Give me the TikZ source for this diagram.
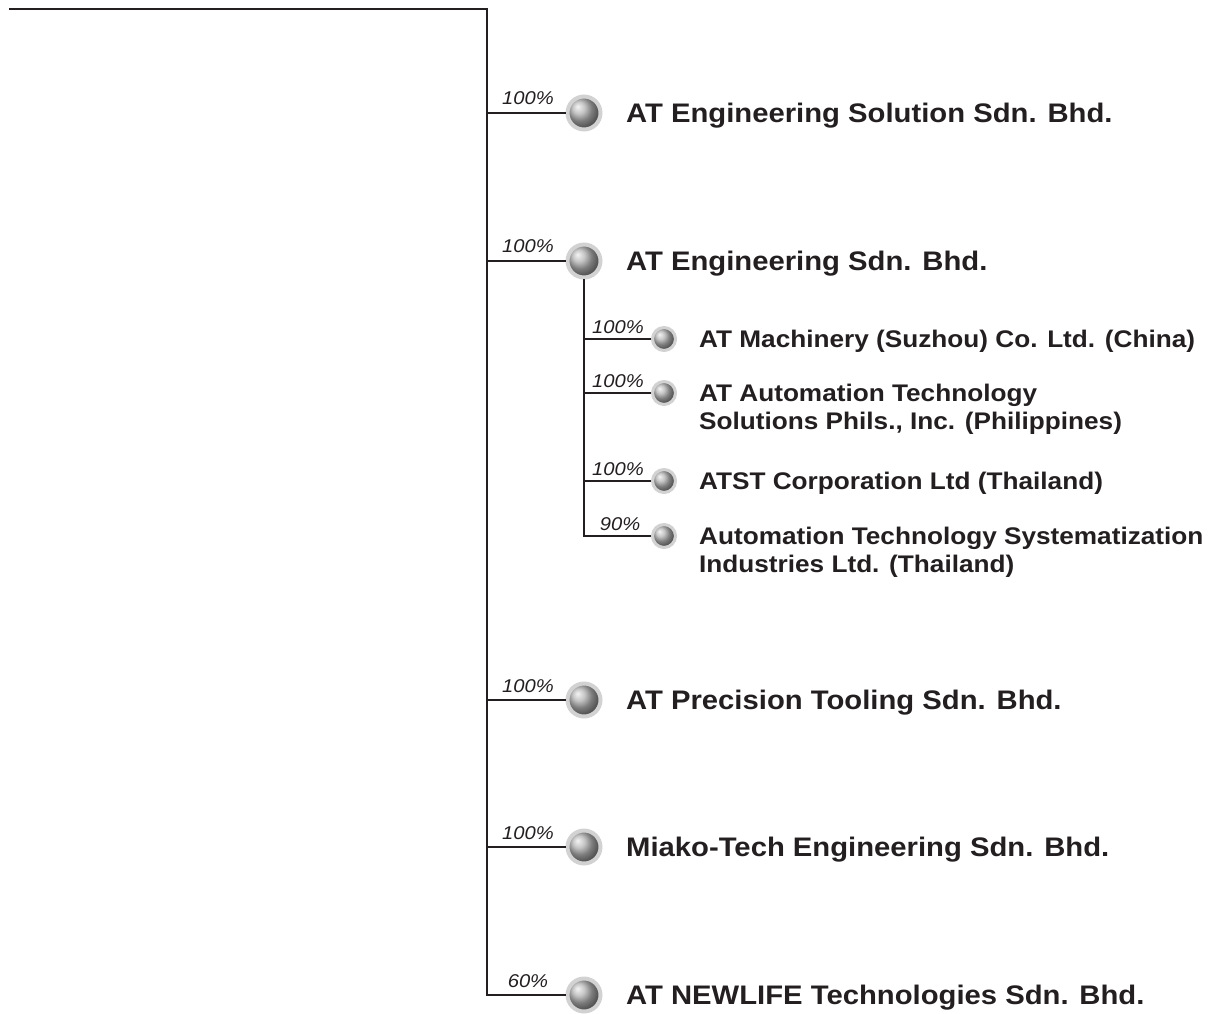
\documentclass[tikz,border=0pt]{standalone}
\usepackage{fontspec}
\setmainfont{Liberation Sans}[FakeStretch=1.09]
\definecolor{ink}{HTML}{231F20}
\definecolor{halo}{HTML}{D2D2D2}

\begin{document}
\begin{tikzpicture}[x=0.03cm,y=-0.03cm,line width=2pt,draw=ink,text=ink,
  mainlabel/.style={anchor=base west,inner sep=0pt,
    font=\bfseries\fontsize{22.9}{27}\selectfont},
  sublabel/.style={anchor=base west,inner sep=0pt,align=left,
    font=\bfseries\fontsize{20.5}{23.8}\selectfont},
  share/.style={anchor=base,inner sep=0pt,
    font=\itshape\fontsize{15.8}{18}\selectfont},
  bigball/.style={circle,inner sep=0pt,minimum size=0.99cm,
    shading=ball,ball color=gray!60,draw=halo,line width=3.4pt},
  smallball/.style={bigball,minimum size=0.69cm,line width=2.6pt}]
  \useasboundingbox (0,0) rectangle (1222,1014);

  % direct subsidiaries
  \coordinate (top) at (9,9);
  \foreach \y/\pct/\name/\txt in {
      113/100/sol/AT Engineering Solution Sdn. Bhd.,
      261/100/eng/AT Engineering Sdn. Bhd.,
      700/100/pt/AT Precision Tooling Sdn. Bhd.,
      847/100/mt/Miako-Tech Engineering Sdn. Bhd.,
      995/60/nl/AT NEWLIFE Technologies Sdn. Bhd.} {
    \node[bigball] (\name) at (584,\y) {};
    \coordinate (\name-in) at (487,\y);
    \draw (\name-in) -- (\name);
    \node[share] (\name-pct) at (528,\y-8) {\pct\%};
    \node[mainlabel] (\name-txt) at (625,\y+9.5) {\txt};
  }
  \draw (top) -| (nl-in) -- (nl);

  % under AT Engineering
  \node[smallball] (szh) at (664,339) {};
  \node[smallball] (ph) at (664,393) {};
  \node[smallball] (atst) at (664,481) {};
  \node[smallball] (atsi) at (664,536) {};
  \draw (eng.south) |- (atsi);
  \foreach \s in {szh,ph,atst}
    \draw (eng.south |- \s) -- (\s);

  \node[share] (szh-pct) at (618,333) {100\%};
  \node[share] (ph-pct) at (618,387) {100\%};
  \node[share] (atst-pct) at (618,475) {100\%};
  \node[share] (atsi-pct) at (620,530) {90\%};

  % base of a two-line label is its last line
  \node[sublabel] (szh-txt) at (698,347) {AT Machinery (Suzhou) Co. Ltd. (China)};
  \node[sublabel] (ph-txt) at (698,429)
    {AT Automation Technology\\Solutions Phils., Inc. (Philippines)};
  \node[sublabel] (atst-txt) at (698,489) {ATST Corporation Ltd (Thailand)};
  \node[sublabel] (atsi-txt) at (698,572)
    {Automation Technology Systematization\\Industries Ltd. (Thailand)};
\end{tikzpicture}
\end{document}
